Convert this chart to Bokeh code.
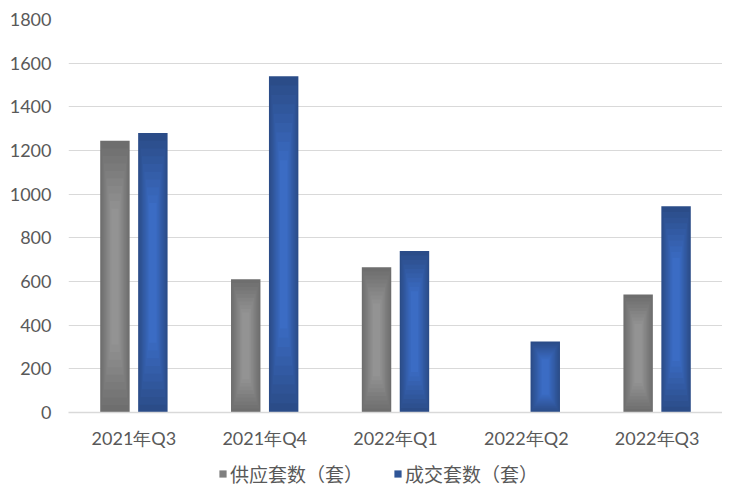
from bokeh.plotting import figure
from bokeh.layouts import column
from bokeh.models import ColumnDataSource, FactorRange, Legend, LegendItem, Range1d, SingleIntervalTicker
from bokeh.transform import dodge
from bokeh.embed import file_html
from bokeh.resources import INLINE

quarters = ["2021年Q3", "2021年Q4", "2022年Q1", "2022年Q2", "2022年Q3"]
supply = [1245, 610, 665, 0, 540]
deals = [1280, 1540, 740, 325, 945]
series_names = ["供应套数（套）", "成交套数（套）"]

FONT = "Lato"
TXT = "#595959"
GRID = "#d9d9d9"
GRAY_EDGE, GRAY_MID = "#6e6e6e", "#939393"
BLUE_EDGE, BLUE_MID = "#2b4c88", "#3b6cc4"

p = figure(x_range=FactorRange(*quarters), y_range=Range1d(0, 1800),
           frame_width=654, frame_height=393, output_backend="svg", toolbar_location=None,
           min_border_left=68, min_border_right=0, min_border_top=19, min_border_bottom=44)
p.outline_line_color = None
p.background_fill_color = "white"

def mix(c1, c2, t):
    a = [int(c1[i:i + 2], 16) for i in (1, 3, 5)]
    b = [int(c2[i:i + 2], 16) for i in (1, 3, 5)]
    return "#%02x%02x%02x" % tuple(round(x + (y - x) * t) for x, y in zip(a, b))

def gradient_bars(vals, offset, edge, center, n=10):
    for k in range(n):
        t = k / (n - 1)
        wf = 1 - 0.75 * t
        hf = 1 - 0.5 * t
        src = ColumnDataSource(dict(
            x=quarters,
            top=[v / 2 + v / 2 * hf for v in vals],
            bottom=[v / 2 - v / 2 * hf for v in vals],
        ))
        p.vbar(x=dodge("x", offset, range=p.x_range), top="top", bottom="bottom",
               width=0.225 * wf, source=src, fill_color=mix(edge, center, t),
               line_color=None)

gradient_bars(supply, -0.145, GRAY_EDGE, GRAY_MID)
gradient_bars(deals, 0.145, BLUE_EDGE, BLUE_MID)

p.xgrid.grid_line_color = None
p.ygrid.grid_line_color = GRID
p.ygrid.grid_line_width = 1.2
p.yaxis.ticker = SingleIntervalTicker(interval=200)

for ax in (p.xaxis, p.yaxis):
    ax.major_tick_line_color = None
    ax.minor_tick_line_color = None
    ax.major_label_text_font = FONT
    ax.major_label_text_font_size = "18px"
    ax.major_label_text_color = TXT
p.yaxis.axis_line_color = None
p.yaxis.major_label_standoff = 11
p.xaxis.axis_line_color = GRID
p.xaxis.axis_line_width = 1.5
p.xaxis.major_label_standoff = 8

# legend strip (its frame is aligned with the chart frame by the column layout)
lg = figure(width=722, height=32, x_range=Range1d(0, 1), y_range=Range1d(0, 1),
            output_backend="svg", toolbar_location=None,
            min_border_left=68, min_border_right=0, min_border_top=0, min_border_bottom=0)
lg.axis.visible = False
lg.grid.visible = False
lg.outline_line_color = None
k1 = lg.vbar(x=[0], top=[0], bottom=[0], width=0, fill_color="#7f7f7f", line_color=None)
k2 = lg.vbar(x=[0], top=[0], bottom=[0], width=0, fill_color="#2f5597", line_color=None)
legend = Legend(items=[LegendItem(label=series_names[0], renderers=[k1]),
                       LegendItem(label=series_names[1], renderers=[k2])],
                orientation="horizontal", location=(150, 1),
                label_text_font="Noto Sans CJK SC", label_text_font_size="19px",
                label_text_color=TXT, glyph_width=9, glyph_height=9,
                spacing=30, label_standoff=3, border_line_color=None,
                background_fill_alpha=0, margin=0, padding=0)
lg.add_layout(legend)

open("out.html", "w").write(file_html(column(p, lg, spacing=0), INLINE))
